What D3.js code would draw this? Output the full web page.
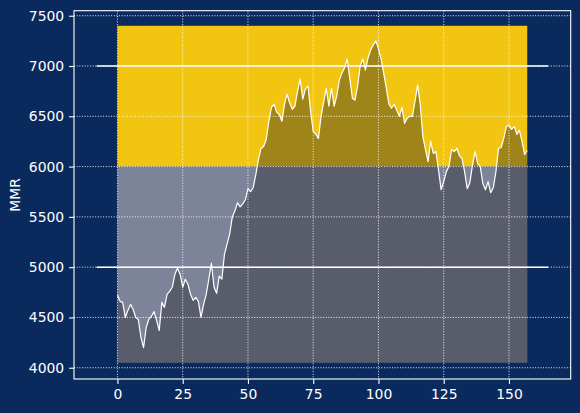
<!DOCTYPE html>
<html>
<head>
<meta charset="utf-8">
<script src="https://cdn.jsdelivr.net/npm/d3@7"></script>
<style>
body{margin:0;background:#0a2a5e;}
svg{display:block;font-family:"DejaVu Sans",sans-serif;}
</style>
</head>
<body>
<svg></svg>
<script>
// MMR per game
const mmr=[
	4720,4660,4650,4500,4570,4630,4580,4500,4480,4300,
	4200,4400,4480,4510,4560,4470,4370,4650,4600,4730,
	4760,4800,4930,4990,4930,4800,4880,4830,4730,4670,
	4700,4660,4500,4630,4730,4880,5040,4800,4740,4910,
	4880,5130,5230,5330,5500,5560,5640,5600,5630,5670,
	5780,5750,5790,5920,6070,6180,6200,6270,6450,6590,
	6620,6540,6520,6450,6620,6720,6630,6570,6600,6750,
	6870,6670,6770,6800,6550,6350,6320,6280,6500,6640,
	6780,6600,6780,6600,6700,6860,6930,6980,7070,6880,
	6680,6660,6800,7000,7070,6960,7080,7160,7210,7250,
	7170,7070,6930,6780,6620,6580,6620,6560,6500,6590,
	6430,6480,6500,6500,6650,6810,6620,6300,6170,6050,
	6250,6130,6150,5970,5770,5850,5950,6000,6170,6150,
	6180,6110,6080,5950,5780,5840,6010,6150,6030,6000,
	5830,5770,5850,5740,5790,5950,6180,6190,6280,6400,
	6410,6370,6400,6320,6360,6250,6120,6160
]

const xTicks=[0,25,50,75,100,125,150]
const yTicks=[4000,4500,5000,5500,6000,6500,7000,7500]

// coloured bands behind the line
const bandHigh=[6000,7400]
const bandLow=[4050,6000]
const bandFloor=4050

// white reference lines
const refLines=[5000,7000]
const refSpan=[-8,165]

const W=580, H=413
const plotL=74, plotR=570.7, plotT=10.7, plotB=379

const svg=d3.select("svg")
	.attr("width",W)
	.attr("height",H)

svg.append("rect")
	.attr("width",W)
	.attr("height",H)
	.attr("fill","#0a2a5e")

const x=d3.scaleLinear()
	.domain([-16.65,173.65])
	.range([plotL,plotR])

const y=d3.scaleLinear()
	.domain([3888,7550])
	.range([plotB,plotT])

const lastX=mmr.length-1

//bands
svg.append("rect")
	.attr("x",x(0))
	.attr("width",x(lastX)-x(0))
	.attr("y",y(bandHigh[1]))
	.attr("height",y(bandHigh[0])-y(bandHigh[1]))
	.attr("fill","#f2c511")

svg.append("rect")
	.attr("x",x(0))
	.attr("width",x(lastX)-x(0))
	.attr("y",y(bandLow[1]))
	.attr("height",y(bandLow[0])-y(bandLow[1]))
	.attr("fill","#7d8399")

//shaded area under the line
const areaGen=d3.area()
	.x((d,i)=>x(i))
	.y0(y(bandFloor))
	.y1(d=>y(d))

svg.append("path")
	.datum(mmr)
	.attr("d",areaGen)
	.attr("fill","rgb(35,35,37)")
	.attr("fill-opacity",0.4)

//dotted grid
const grid=svg.append("g")
	.attr("stroke","#fff")
	.attr("stroke-width",0.9)
	.attr("stroke-dasharray","1,1.65")

grid.selectAll("line.gx")
	.data(xTicks)
	.enter()
	.append("line")
	.attr("x1",d=>x(d)).attr("x2",d=>x(d))
	.attr("y1",plotT).attr("y2",plotB)

grid.selectAll("line.gy")
	.data(yTicks)
	.enter()
	.append("line")
	.attr("y1",d=>y(d)).attr("y2",d=>y(d))
	.attr("x1",plotL).attr("x2",plotR)

//reference lines
svg.selectAll("line.ref")
	.data(refLines)
	.enter()
	.append("line")
	.attr("x1",x(refSpan[0]))
	.attr("x2",x(refSpan[1]))
	.attr("y1",d=>y(d))
	.attr("y2",d=>y(d))
	.attr("stroke","#fff")
	.attr("stroke-width",1.5)

//the mmr line
const lineGen=d3.line()
	.x((d,i)=>x(i))
	.y(d=>y(d))

svg.append("path")
	.datum(mmr)
	.attr("d",lineGen)
	.attr("fill","none")
	.attr("stroke","#fff")
	.attr("stroke-width",1.2)
	.attr("stroke-linejoin","round")

//axes
const xAxis=svg.append("g")
	.attr("transform",`translate(0,${plotB})`)
	.call(d3.axisBottom(x).tickValues(xTicks).tickFormat(d3.format("d")).tickSize(4.9).tickPadding(4.9))

const yAxis=svg.append("g")
	.attr("transform",`translate(${plotL},0)`)
	.call(d3.axisLeft(y).tickValues(yTicks).tickFormat(d3.format("d")).tickSize(4.9).tickPadding(4.9))

for(const ax of [xAxis,yAxis]){
	ax.select(".domain").remove()
	ax.selectAll(".tick line").attr("stroke","#fff").attr("stroke-width",1.1)
	ax.selectAll(".tick text")
		.attr("fill","#fff")
		.style("font-size","13.9px")
		.style("font-family","'DejaVu Sans',sans-serif")
}

//frame
svg.append("rect")
	.attr("x",plotL)
	.attr("y",plotT)
	.attr("width",plotR-plotL)
	.attr("height",plotB-plotT)
	.attr("fill","none")
	.attr("stroke","#fff")
	.attr("stroke-width",1.1)

svg.append("text")
	.attr("transform",`translate(20,${(plotT+plotB)/2}) rotate(-90)`)
	.attr("text-anchor","middle")
	.attr("fill","#fff")
	.style("font-size","13.9px")
	.text("MMR")
</script>
</body>
</html>
